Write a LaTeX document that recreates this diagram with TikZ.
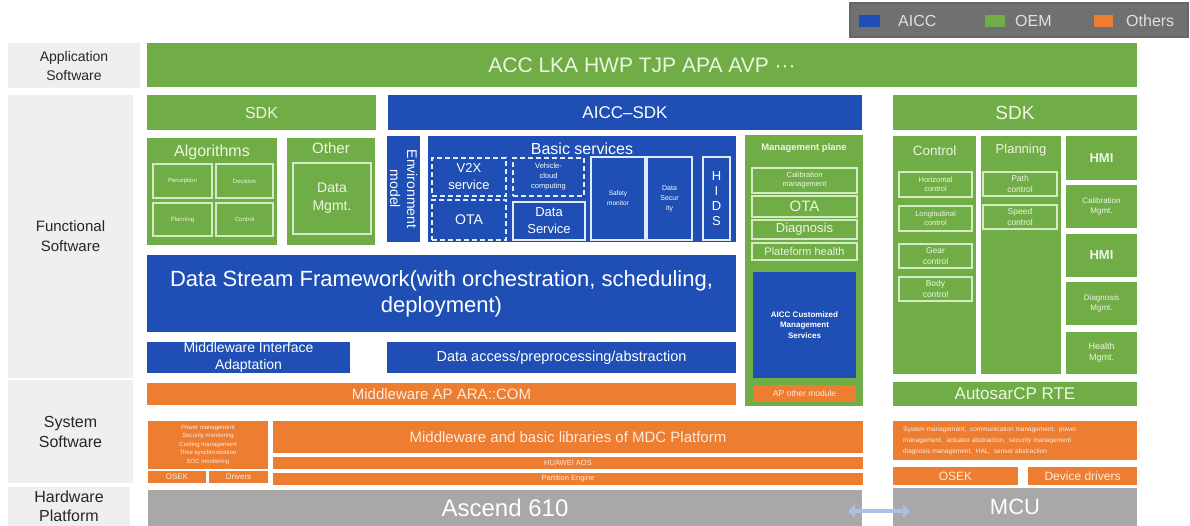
\documentclass[tikz,border=0pt]{standalone}
\usepackage{fontspec}
\setmainfont{Liberation Sans}
\usetikzlibrary{arrows.meta}

\definecolor{oem}{HTML}{70AD47}
\definecolor{aicc}{HTML}{1F4FB4}
\definecolor{oth}{HTML}{ED7D31}
\definecolor{hw}{HTML}{A8A8A8}
\definecolor{lab}{HTML}{EFEFEF}
\definecolor{legbg}{HTML}{707070}
\definecolor{txg}{HTML}{EDF6E0}
\definecolor{txo}{HTML}{FDEBDD}
\definecolor{lineg}{HTML}{D3EAC3}
\definecolor{linew}{HTML}{E2E9F7}
\definecolor{arrc}{HTML}{ABC0E6}

\newcommand{\fsz}[2]{\fontsize{#1}{#2}\selectfont}
% \blk{name}{x1}{y1}{x2}{y2}{style}{text}: a box given by its corners (pixels, y downwards)
\newcommand{\blk}[7]{\node[#6,minimum width={((#4)-(#2))*1pt},minimum height={((#5)-(#3))*1pt}] (#1) at ({((#2)+(#4))/2},{((#3)+(#5))/2}) {#7};}

\tikzset{
  base/.style={inner sep=0pt, outer sep=0pt, align=center},
  gbox/.style={base, fill=oem, text=txg},
  bbox/.style={base, fill=aicc, text=white},
  obox/.style={base, fill=oth, text=txo},
  hwbox/.style={base, fill=hw, text=white},
  lblbox/.style={base, fill=lab, text=black!85},
  gline/.style={base, draw=lineg, line width=1.3pt, text=txg},
  wline/.style={base, draw=linew, line width=1.4pt, text=white},
  wdash/.style={wline, dash pattern=on 5pt off 3pt},
  gtxt/.style={inner sep=0pt, align=center, text=txg},
  btxt/.style={inner sep=0pt, align=center, text=white},
  legbox/.style={base, fill=legbg, draw=black!60, line width=1.5pt},
  legtxt/.style={inner sep=0pt, anchor=west, text=black!12, font=\fsz{16}{19}},
  dblarrow/.style={draw=arrc, line width=4pt, {Triangle[length=7pt,width=13pt]}-{Triangle[length=7pt,width=13pt]}},
}

\begin{document}
\begin{tikzpicture}[x=1pt,y=-1pt]
\useasboundingbox (0,0) rectangle (1190,526);

% legend
\blk{legend}{850}{3}{1188}{37}{legbox}{}
\blk{sqA}{859}{15}{880}{27}{bbox}{}
\node[legtxt] (lgA) at (898,21) {AICC};
\blk{sqO}{985}{15}{1005}{27}{gbox}{}
\node[legtxt] (lgO) at (1015,21) {OEM};
\blk{sqT}{1094}{15}{1113}{27}{obox}{}
\node[legtxt] (lgT) at (1126,21) {Others};

% layer labels
\blk{labApp}{8}{43}{140}{88}{lblbox,font=\fsz{14}{19}}{Application\\Software}
\blk{labFun}{8}{95}{133}{378}{lblbox,font=\fsz{15}{20}}{Functional\\Software}
\blk{labSys}{8}{380}{133}{483}{lblbox,font=\fsz{16}{20}}{System\\Software}
\blk{labHw}{8}{487}{130}{526}{lblbox,font=\fsz{16}{19}}{Hardware\\Platform}

% application software
\blk{app}{147}{43}{1137}{87}{gbox,font=\fsz{21}{24}}{ACC LKA HWP TJP APA AVP ···}

% SDK row
\blk{sdkL}{147}{95}{376}{130}{gbox,font=\fsz{16}{19}}{SDK}
\blk{aiccsdk}{388}{95}{862}{130}{bbox,font=\fsz{17}{20}}{AICC–SDK}
\blk{sdkR}{893}{95}{1137}{130}{gbox,font=\fsz{19}{22}}{SDK}

% algorithms
\blk{alg}{147}{138}{277}{245}{gbox}{}
\node[gtxt,font=\fsz{16}{19}] (algT) at (212,152) {Algorithms};
\blk{perc}{153}{164}{212}{198}{gline,font=\fsz{6}{7}}{Perception}
\blk{deci}{216}{164}{273}{198}{gline,font=\fsz{6}{7}}{Decision}
\blk{plan}{153}{203}{212}{236}{gline,font=\fsz{6}{7}}{Planning}
\blk{ctrl}{216}{203}{273}{236}{gline,font=\fsz{6}{7}}{Control}

% other
\blk{other}{287}{138}{375}{245}{gbox}{}
\node[gtxt,font=\fsz{15}{18}] (otherT) at (331,148) {Other};
\blk{dmgmt}{293}{163}{371}{234}{gline,font=\fsz{14}{18}}{Data\\Mgmt.}

% environment model
\blk{env}{387}{136}{420}{242}{bbox}{}
\node[btxt,rotate=-90,font=\fsz{14}{17}] (envT) at (env) {Environment\\model};

% basic services
\blk{bs}{428}{136}{736}{242}{bbox}{}
\node[btxt,font=\fsz{16}{19}] (bsT) at (582,149) {Basic services};
\blk{v2x}{432}{158}{506}{196}{wdash,font=\fsz{13}{17}}{V2X\\service}
\blk{vcc}{513}{158}{584}{196}{wdash,font=\fsz{7.5}{10}}{Vehicle-\\cloud\\computing}
\blk{ota1}{432}{200}{506}{240}{wdash,font=\fsz{14}{16}}{OTA}
\blk{dsvc}{513}{202}{585}{240}{wline,font=\fsz{13}{17}}{Data\\Service}
\blk{safe}{591}{157}{645}{240}{wline,font=\fsz{6.5}{10}}{Safety\\monitor}
\blk{dsec}{647}{157}{692}{240}{wline,font=\fsz{7}{10}}{Data\\Secur\\ity}
\blk{hids}{703}{157}{730}{240}{wline,font=\fsz{13}{15}}{H\\I\\D\\S}

% management plane
\blk{mgmt}{745}{135}{863}{406}{gbox}{}
\node[gtxt,font=\fsz{9.5}{11}\bfseries] (mgmtT) at (804,148) {Management plane};
\blk{calm}{752}{168}{857}{193}{gline,font=\fsz{7.5}{9}}{Calibration\\management}
\blk{ota2}{752}{196}{857}{217}{gline,font=\fsz{15}{17}}{OTA}
\blk{diag}{752}{220}{857}{239}{gline,font=\fsz{13}{15}}{Diagnosis}
\blk{plat}{752}{243}{857}{260}{gline,font=\fsz{11}{13}}{Plateform health}
\blk{acms}{753}{272}{856}{378}{bbox,font=\fsz{8}{10.5}\bfseries}{AICC Customized\\Management\\Services}
\blk{apom}{753}{385}{856}{402}{obox,font=\fsz{8.5}{10}}{AP other module}

% data stream framework and middleware
\blk{dsf}{147}{255}{736}{332}{bbox,font=\fsz{22}{26}}{Data Stream Framework(with orchestration, scheduling,\\deployment)}
\blk{mia}{147}{342}{350}{373}{bbox,font=\fsz{14}{17}}{Middleware Interface\\Adaptation}
\blk{dapa}{387}{342}{736}{373}{bbox,font=\fsz{14.5}{17}}{Data access/preprocessing/abstraction}
\blk{aracom}{147}{383}{736}{405}{obox,font=\fsz{15}{17}}{Middleware AP ARA::COM}

% MCU side functional software
\blk{ctl}{893}{136}{976}{374}{gbox}{}
\node[gtxt,font=\fsz{13.5}{16}] (ctlT) at (934.5,151) {Control};
\blk{hctl}{899}{172}{972}{197}{gline,font=\fsz{7.5}{9}}{Horizontal\\control}
\blk{lctl}{899}{206}{972}{231}{gline,font=\fsz{7.5}{9}}{Longitudinal\\control}
\blk{gctl}{899}{244}{972}{268}{gline,font=\fsz{8.5}{11}}{Gear\\control}
\blk{bctl}{899}{277}{972}{301}{gline,font=\fsz{8.5}{11}}{Body\\control}
\blk{pln}{981}{136}{1061}{374}{gbox}{}
\node[gtxt,font=\fsz{13}{16}] (plnT) at (1021,150) {Planning};
\blk{pctl}{983}{172}{1057}{196}{gline,font=\fsz{8.5}{11}}{Path\\control}
\blk{sctl}{983}{205}{1057}{229}{gline,font=\fsz{8.5}{11}}{Speed\\control}
\blk{hmi1}{1066}{136}{1137}{180}{gbox,font=\fsz{13}{15}\bfseries}{HMI}
\blk{calM}{1066}{185}{1137}{228}{gbox,font=\fsz{8}{10}}{Calibration\\Mgmt.}
\blk{hmi2}{1066}{234}{1137}{277}{gbox,font=\fsz{13}{15}\bfseries}{HMI}
\blk{diaM}{1066}{282}{1137}{325}{gbox,font=\fsz{8}{10}}{Diagnosis\\Mgmt.}
\blk{heaM}{1066}{332}{1137}{374}{gbox,font=\fsz{9}{11}}{Health\\Mgmt.}
\blk{rte}{893}{382}{1137}{406}{gbox,font=\fsz{17}{20}}{AutosarCP RTE}

% system software
\blk{sysL}{148}{421}{268}{469}{obox,font=\fsz{6}{8.5}}{Power management\\Security monitoring\\Cooling management\\Time synchronization\\SOC monitoring}
\blk{osekL}{148}{471}{206}{483}{obox,font=\fsz{8}{9}}{OSEK}
\blk{drvL}{209}{471}{268}{483}{obox,font=\fsz{8}{9}}{Drivers}
\blk{mdc}{273}{421}{863}{453}{obox,font=\fsz{15}{17}}{Middleware and basic libraries of MDC Platform}
\blk{aos}{273}{457}{863}{469}{obox,font=\fsz{7.5}{9}}{HUAWEI AOS}
\blk{pe}{273}{473}{863}{485}{obox,font=\fsz{7.5}{9}}{Partition Engine}
\blk{mcusys}{893}{421}{1137}{460}{obox}{}
\node[inner sep=0pt,anchor=west,align=left,text=txo,font=\fsz{6.5}{11}] (mcusysT) at (903,440.5)
  {System management,\ \ communication management,\ \ power\\management,\ \ actuator abstraction,\ \ security management\\diagnosis management,\ \ HAL,\ \ sensor abstraction};
\blk{osekR}{893}{467}{1018}{485}{obox,font=\fsz{12}{14}}{OSEK}
\blk{devR}{1028}{467}{1137}{485}{obox,font=\fsz{12}{14}}{Device drivers}

% hardware platform
\blk{asc}{148}{490}{862}{526}{hwbox,font=\fsz{24}{28}}{Ascend 610}
\blk{mcu}{893}{488}{1137}{526}{hwbox,font=\fsz{22}{26}}{MCU}
\coordinate (arrL) at ([xshift=-14pt,yshift=-3pt]asc.east);
\coordinate (arrR) at ([xshift=17pt,yshift=-4pt]mcu.west);
\draw[dblarrow] (arrL) -- (arrR);
\end{tikzpicture}
\end{document}
